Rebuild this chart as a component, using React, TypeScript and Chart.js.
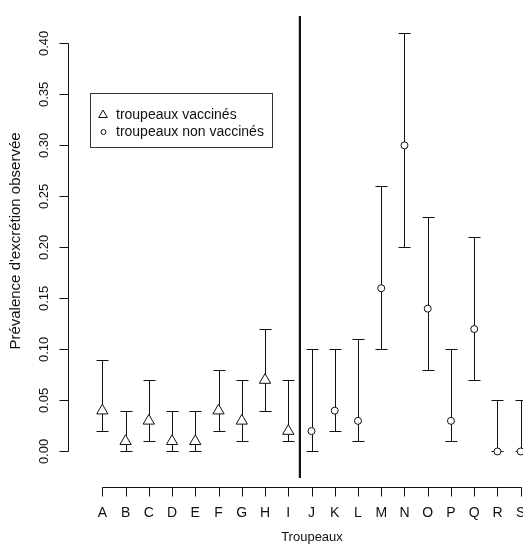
import React, { useEffect, useRef } from "react";
import { Chart, registerables } from "chart.js";
Chart.register(...registerables);

// ---- data ----
const herds = ["A","B","C","D","E","F","G","H","I","J","K","L","M","N","O","P","Q","R","S"];

const vaccinatedHerds = ["A","B","C","D","E","F","G","H","I"];
const vaccinatedPrev = [0.04, 0.01, 0.03, 0.01, 0.01, 0.04, 0.03, 0.07, 0.02];
const vaccinatedLow = [0.02, 0.0, 0.01, 0.0, 0.0, 0.02, 0.01, 0.04, 0.01];
const vaccinatedHigh = [0.09, 0.04, 0.07, 0.04, 0.04, 0.08, 0.07, 0.12, 0.07];

const unvaccinatedHerds = ["J","K","L","M","N","O","P","Q","R","S"];
const unvaccinatedPrev = [0.02, 0.04, 0.03, 0.16, 0.30, 0.14, 0.03, 0.12, 0.0, 0.0];
const unvaccinatedLow = [0.0, 0.02, 0.01, 0.10, 0.20, 0.08, 0.01, 0.07, 0.0, 0.0];
const unvaccinatedHigh = [0.10, 0.10, 0.11, 0.26, 0.41, 0.23, 0.10, 0.21, 0.05, 0.05];

const yTickValues = [0, 0.05, 0.1, 0.15, 0.2, 0.25, 0.3, 0.35, 0.4];
const yTickLabels = ["0.00","0.05","0.10","0.15","0.20","0.25","0.30","0.35","0.40"];

const legendLabels = ["troupeaux vaccinés", "troupeaux non vaccinés"];
const xTitle = "Troupeaux";
const yTitle = "Prévalence d'excrétion observée";
const separatorAt = 8.5; // between I and J

// ---- scale ranges ----
const X_MIN = -1.476;
const X_MAX = 18.099;
const Y_MIN = -0.026;
const Y_MAX = 0.4268;

const FONT = "'Liberation Sans', Arial, sans-serif";
const INK = "#111";

const rPlot = {
  id: "rPlot",
  beforeDatasetsDraw(chart: any) {
    const { ctx, scales } = chart;
    const xs = scales.x, ys = scales.y;
    ctx.save();
    ctx.strokeStyle = INK;
    ctx.lineWidth = 1;
    const bars = (names: string[], lo: number[], hi: number[]) => {
      names.forEach((n, i) => {
        const x = Math.round(xs.getPixelForValue(herds.indexOf(n))) + 0.5;
        const y1 = Math.round(ys.getPixelForValue(lo[i])) + 0.5;
        const y2 = Math.round(ys.getPixelForValue(hi[i])) + 0.5;
        ctx.beginPath();
        ctx.moveTo(x, y1); ctx.lineTo(x, y2);
        ctx.moveTo(x - 6, y1); ctx.lineTo(x + 6, y1);
        ctx.moveTo(x - 6, y2); ctx.lineTo(x + 6, y2);
        ctx.stroke();
      });
    };
    bars(vaccinatedHerds, vaccinatedLow, vaccinatedHigh);
    bars(unvaccinatedHerds, unvaccinatedLow, unvaccinatedHigh);
    // separator line
    const sx = xs.getPixelForValue(separatorAt);
    ctx.lineWidth = 2.2;
    ctx.beginPath();
    ctx.moveTo(sx, chart.chartArea.top);
    ctx.lineTo(sx, chart.chartArea.bottom);
    ctx.stroke();
    ctx.restore();
  },
  afterDraw(chart: any) {
    const { ctx, scales, chartArea } = chart;
    const xs = scales.x, ys = scales.y;
    ctx.save();
    ctx.strokeStyle = INK;
    ctx.fillStyle = INK;
    ctx.lineWidth = 1;

    // y axis
    const ax = Math.round(chartArea.left) + 0.5;
    const yTop = Math.round(ys.getPixelForValue(yTickValues[yTickValues.length - 1])) + 0.5;
    const yBot = Math.round(ys.getPixelForValue(yTickValues[0])) + 0.5;
    ctx.beginPath();
    ctx.moveTo(ax, yTop); ctx.lineTo(ax, yBot);
    yTickValues.forEach((v) => {
      const y = Math.round(ys.getPixelForValue(v)) + 0.5;
      ctx.moveTo(ax - 9, y); ctx.lineTo(ax, y);
    });
    ctx.stroke();
    ctx.font = `13px ${FONT}`;
    ctx.textAlign = "center";
    ctx.textBaseline = "middle";
    yTickValues.forEach((v, i) => {
      const y = ys.getPixelForValue(v);
      ctx.save();
      ctx.translate(ax - 24, y);
      ctx.rotate(-Math.PI / 2);
      ctx.fillText(yTickLabels[i], 0, 0);
      ctx.restore();
    });
    // y title
    ctx.save();
    ctx.font = `15px ${FONT}`;
    ctx.translate(16, 241);
    ctx.rotate(-Math.PI / 2);
    ctx.fillText(yTitle, 0, 0);
    ctx.restore();

    // x axis
    const axY = Math.round(chartArea.bottom + 9) + 0.5;
    const x0 = Math.round(xs.getPixelForValue(0)) + 0.5;
    const x1 = Math.round(xs.getPixelForValue(herds.length - 1)) + 0.5;
    ctx.beginPath();
    ctx.moveTo(x0, axY); ctx.lineTo(x1, axY);
    herds.forEach((_, i) => {
      const x = Math.round(xs.getPixelForValue(i)) + 0.5;
      ctx.moveTo(x, axY); ctx.lineTo(x, axY + 9);
    });
    ctx.stroke();
    ctx.font = `14px ${FONT}`;
    herds.forEach((h, i) => {
      ctx.fillText(h, xs.getPixelForValue(i), axY + 26);
    });
    ctx.font = `13px ${FONT}`;
    ctx.fillText(xTitle, 312, axY + 50);

    // legend
    const lx = 90.5, ly = 93.5, lw = 182, lh = 54;
    ctx.strokeStyle = "#333";
    ctx.strokeRect(lx, ly, lw, lh);
    ctx.textAlign = "left";
    ctx.font = `14px ${FONT}`;
    ctx.fillText(legendLabels[0], 116, 115);
    ctx.fillText(legendLabels[1], 116, 132);
    ctx.strokeStyle = INK;
    // triangle marker
    ctx.beginPath();
    const tx = 103, ty = 115, r = 5;
    ctx.moveTo(tx, ty - r);
    ctx.lineTo(tx + r * 0.866, ty + r * 0.5);
    ctx.lineTo(tx - r * 0.866, ty + r * 0.5);
    ctx.closePath();
    ctx.stroke();
    // circle marker
    ctx.beginPath();
    ctx.arc(103.5, 132, 2.5, 0, Math.PI * 2);
    ctx.stroke();
    ctx.restore();
  },
};

export default function App() {
  const ref = useRef<HTMLCanvasElement>(null);
  useEffect(() => {
    document.body.style.margin = "0";
    const canvas = ref.current!;
    const chart = new Chart(canvas, {
      type: "scatter",
      data: {
        datasets: [
          {
            label: legendLabels[0],
            data: vaccinatedHerds.map((h, i) => ({ x: herds.indexOf(h), y: vaccinatedPrev[i] })),
            pointStyle: "triangle",
            pointRadius: 6.5,
            borderColor: INK,
            backgroundColor: "#fff",
            borderWidth: 1,
          },
          {
            label: legendLabels[1],
            data: unvaccinatedHerds.map((h, i) => ({ x: herds.indexOf(h), y: unvaccinatedPrev[i] })),
            pointStyle: "circle",
            pointRadius: 3.5,
            borderColor: INK,
            backgroundColor: "#fff",
            borderWidth: 1,
          },
        ],
      },
      options: {
        responsive: false,
        animation: false,
        layout: { autoPadding: false, padding: { left: 68, right: 0, top: 16, bottom: 67 } },
        scales: {
          x: { type: "linear", display: false, min: X_MIN, max: X_MAX },
          y: { type: "linear", display: false, min: Y_MIN, max: Y_MAX },
        },
        plugins: { legend: { display: false }, tooltip: { enabled: false } },
      },
      plugins: [rPlot],
    } as any);
    return () => chart.destroy();
  }, []);
  return (
    <div style={{ position: "absolute", left: 0, top: 0, width: 523, height: 545, background: "#fff" }}>
      <canvas ref={ref} width={523} height={545} style={{ display: "block", width: 523, height: 545 }} />
    </div>
  );
}
